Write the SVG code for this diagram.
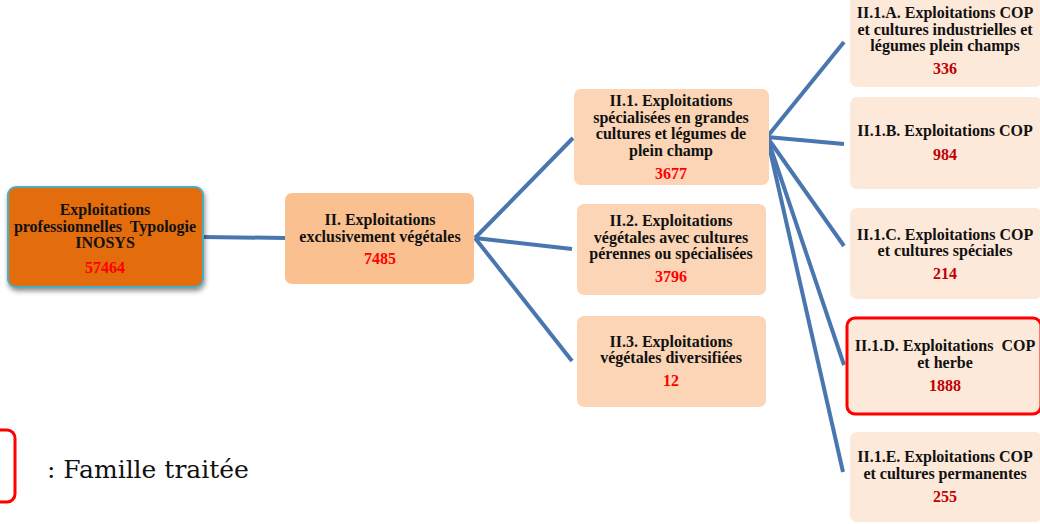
<svg xmlns="http://www.w3.org/2000/svg" width="1040" height="524" viewBox="0 0 1040 524">
<defs>
<style>
.t{font-family:"Liberation Serif","Times New Roman",serif;font-weight:bold;font-size:16px;fill:#111;text-anchor:middle}
.n1{fill:#FF0000}
.n2{fill:#C00000}
.c{stroke:#4A76B0;stroke-width:4;fill:none;stroke-linecap:butt}
.l2{fill:#FBD5B5}
.l3{fill:#FDE9D9}
</style>
<filter id="sh" x="-10%" y="-10%" width="130%" height="130%">
<feDropShadow dx="1" dy="3" stdDeviation="2.5" flood-color="#000" flood-opacity="0.45"/>
</filter>
</defs>
<rect width="1040" height="524" fill="#fff"/>
<g id="connectors">
<line class="c" x1="203" y1="237" x2="285" y2="238"/>
<line class="c" x1="475" y1="238" x2="573" y2="138"/>
<line class="c" x1="475" y1="238" x2="572" y2="249"/>
<line class="c" x1="475" y1="238" x2="572" y2="361"/>
<line class="c" x1="767" y1="137" x2="844" y2="42"/>
<line class="c" x1="767" y1="137" x2="844" y2="144"/>
<line class="c" x1="767" y1="137" x2="844" y2="246"/>
<line class="c" x1="767" y1="137" x2="844" y2="365"/>
<line class="c" x1="767" y1="137" x2="843" y2="472"/>
</g>
<g id="root">
<rect x="8" y="187" width="195" height="100" rx="8" fill="#E36C0A" stroke="#4BACC6" stroke-width="2" filter="url(#sh)"/>
<text class="t" x="105" y="215">Exploitations</text>
<text class="t" x="105" y="232" xml:space="preserve">professionnelles  Typologie</text>
<text class="t" x="105" y="248">INOSYS</text>
<text class="t n1" x="105" y="273">57464</text>
</g>
<g id="n_II">
<rect x="285" y="193" width="189" height="91" rx="7" fill="#FAC090"/>
<text class="t" x="380" y="225">II. Exploitations</text>
<text class="t" x="380" y="242">exclusivement végétales</text>
<text class="t n1" x="380" y="264">7485</text>
</g>
<g id="n_II1">
<rect class="l2" x="574" y="89" width="195" height="96" rx="7"/>
<text class="t" x="671" y="106">II.1. Exploitations</text>
<text class="t" x="671" y="123">spécialisées en grandes</text>
<text class="t" x="671" y="139">cultures et légumes de</text>
<text class="t" x="671" y="156">plein champ</text>
<text class="t n1" x="671" y="179">3677</text>
</g>
<g id="n_II2">
<rect class="l2" x="577" y="204" width="189" height="91" rx="7"/>
<text class="t" x="671" y="226">II.2. Exploitations</text>
<text class="t" x="671" y="243">végétales avec cultures</text>
<text class="t" x="671" y="259">pérennes ou spécialisées</text>
<text class="t n1" x="671" y="282">3796</text>
</g>
<g id="n_II3">
<rect class="l2" x="577" y="316" width="189" height="91" rx="7"/>
<text class="t" x="671" y="347">II.3. Exploitations</text>
<text class="t" x="671" y="363">végétales diversifiées</text>
<text class="t n1" x="671" y="386">12</text>
</g>
<g id="n_II1A">
<rect class="l3" x="850" y="-10" width="192" height="97" rx="7"/>
<text class="t" x="945" y="18">II.1.A. Exploitations COP</text>
<text class="t" x="945" y="35">et cultures industrielles et</text>
<text class="t" x="945" y="51">légumes plein champs</text>
<text class="t n2" x="945" y="74">336</text>
</g>
<g id="n_II1B">
<rect class="l3" x="850" y="97" width="192" height="92" rx="7"/>
<text class="t" x="945" y="136">II.1.B. Exploitations COP</text>
<text class="t n2" x="945" y="160">984</text>
</g>
<g id="n_II1C">
<rect class="l3" x="850" y="208" width="192" height="91" rx="7"/>
<text class="t" x="945" y="240">II.1.C. Exploitations COP</text>
<text class="t" x="945" y="256">et cultures spéciales</text>
<text class="t n2" x="945" y="279">214</text>
</g>
<g id="n_II1D">
<rect class="l3" x="847" y="318" width="194" height="96" rx="8" stroke="#FF0000" stroke-width="3"/>
<text class="t" x="945" y="351" xml:space="preserve">II.1.D. Exploitations  COP</text>
<text class="t" x="945" y="368">et herbe</text>
<text class="t n2" x="945" y="391">1888</text>
</g>
<g id="n_II1E">
<rect class="l3" x="850" y="432" width="192" height="90" rx="7"/>
<text class="t" x="945" y="462">II.1.E. Exploitations COP</text>
<text class="t" x="945" y="479">et cultures permanentes</text>
<text class="t n2" x="945" y="502">255</text>
</g>
<g id="legend">
<rect x="-40" y="430" width="55" height="72" rx="8" fill="none" stroke="#FF0000" stroke-width="3"/>
<text x="47" y="478" font-family="DejaVu Serif, serif" font-size="25" fill="#111">: Famille traitée</text>
</g>
</svg>
